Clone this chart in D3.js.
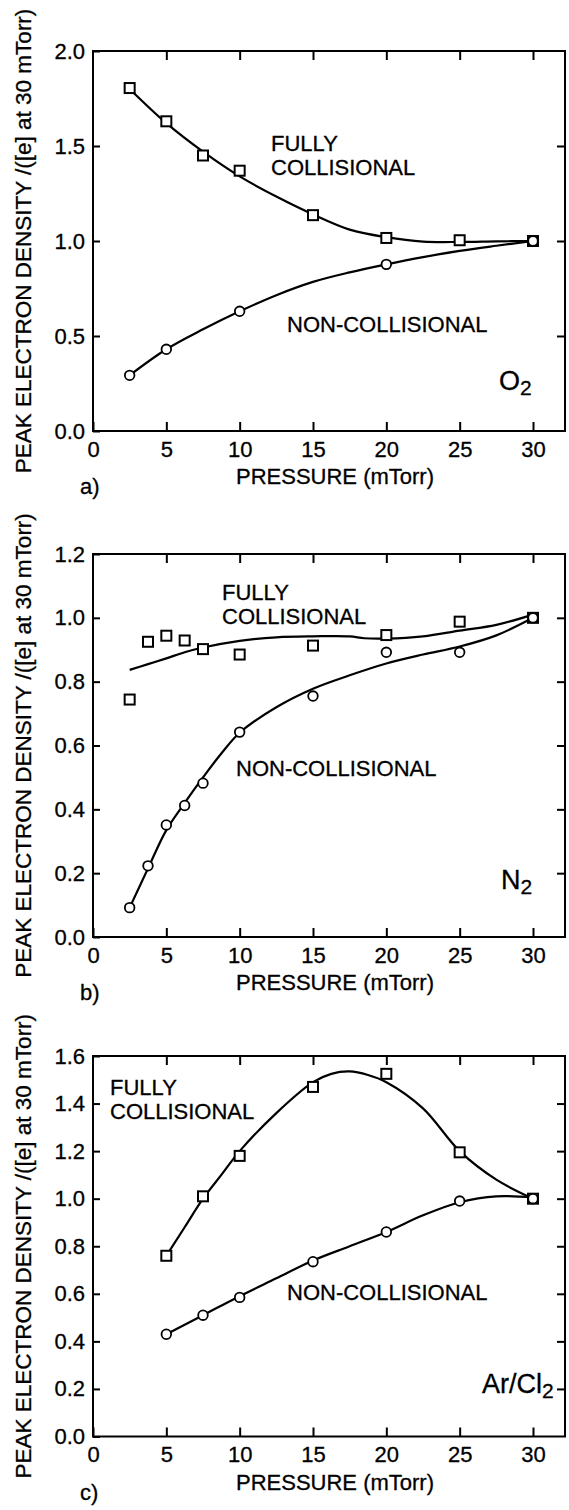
<!DOCTYPE html>
<html><head><meta charset="utf-8">
<script src="https://cdn.jsdelivr.net/npm/d3@7"></script>
<style>
html,body{margin:0;padding:0;background:#fff;}
svg text{font-family:"Liberation Sans",Arial,Helvetica,sans-serif;fill:#000;stroke:#000;stroke-width:0.3px;}
</style></head>
<body>
<svg id="chart" width="569" height="1510"></svg>
<script>
// ---------- DATA ----------
const xTicks = [0, 5, 10, 15, 20, 25, 30];
const yTicksA = [0.0, 0.5, 1.0, 1.5, 2.0];
const yTicksB = [0.0, 0.2, 0.4, 0.6, 0.8, 1.0, 1.2];
const yTicksC = [0.0, 0.2, 0.4, 0.6, 0.8, 1.0, 1.2, 1.4, 1.6];

// a) O2
const collPressA = [2.5, 5, 7.5, 10, 15, 20, 25, 30];
const collA      = [1.805, 1.63, 1.45, 1.37, 1.136, 1.016, 1.004, 1.0];
const nonPressA  = [2.5, 5, 10, 20, 30];
const nonA       = [0.293, 0.43, 0.63, 0.877, 1.0];
const fitCollPressA = [2.5, 5, 7.5, 10, 12.5, 15, 17.5, 20, 22.5, 25, 27.5, 30];
const fitCollA      = [1.80, 1.62, 1.47, 1.34, 1.234, 1.14, 1.06, 1.02, 0.997, 0.995, 0.998, 1.0];
const fitNonPressA  = [2.5, 5, 7.5, 10, 12.5, 15, 17.5, 20, 22.5, 25, 27.5, 30];
const fitNonA       = [0.293, 0.43, 0.535, 0.63, 0.715, 0.785, 0.835, 0.877, 0.915, 0.948, 0.975, 1.0];

// b) N2
const collPressB = [2.5, 3.75, 5, 6.25, 7.5, 10, 15, 20, 25, 30];
const collB      = [0.744, 0.925, 0.944, 0.929, 0.902, 0.885, 0.913, 0.946, 0.988, 1.0];
const nonPressB  = [2.5, 3.75, 5, 6.25, 7.5, 10, 15, 20, 25, 30];
const nonB       = [0.092, 0.223, 0.351, 0.412, 0.482, 0.642, 0.755, 0.892, 0.892, 1.0];
const fitCollPressB = [2.5, 3.75, 5, 6.25, 7.5, 10, 12.5, 15, 17.5, 18.5, 20, 22.5, 25, 27.5, 30];
const fitCollB      = [0.837, 0.855, 0.873, 0.892, 0.907, 0.928, 0.939, 0.942, 0.942, 0.936, 0.935, 0.942, 0.960, 0.978, 1.01];
const fitNonPressB  = [2.5, 3.75, 5, 6.25, 7.5, 8.75, 10, 12.5, 15, 17.5, 20, 22.5, 25, 27.5, 30];
const fitNonB       = [0.092, 0.215, 0.335, 0.42, 0.50, 0.575, 0.64, 0.72, 0.778, 0.82, 0.857, 0.885, 0.91, 0.945, 1.0];

// c) Ar/Cl2
const collPressC = [5, 7.5, 10, 15, 20, 25, 30];
const collC      = [0.76, 1.01, 1.18, 1.47, 1.525, 1.195, 1.0];
const nonPressC  = [5, 7.5, 10, 15, 20, 25, 30];
const nonC       = [0.43, 0.51, 0.585, 0.735, 0.86, 0.99, 1.0];
const fitCollPressC = [5, 6.25, 7.5, 8.75, 10, 12.5, 15, 16.25, 17.5, 18.75, 20, 22.5, 25, 27.5, 30];
const fitCollC      = [0.76, 0.88, 1.0, 1.10, 1.2, 1.36, 1.49, 1.525, 1.535, 1.52, 1.49, 1.38, 1.2, 1.08, 1.0];
const fitNonPressC  = [5, 7.5, 10, 12.5, 15, 17.5, 20, 22.5, 25, 27.5, 30];
const fitNonC       = [0.43, 0.51, 0.59, 0.665, 0.74, 0.80, 0.86, 0.93, 0.985, 1.01, 1.005];

const yLabel = "PEAK ELECTRON DENSITY /([e] at 30 mTorr)";
const xLabel = "PRESSURE (mTorr)";

// ---------- LAYOUT ----------
const svg = d3.select("#chart");
const X0 = 93, X30 = 533, XR = 565;
const panels = [
  {top:51, bottom:431, yMax:2.0, yTicks:yTicksA, letter:"a)",
   coll:[collPressA,collA], non:[nonPressA,nonA], fitColl:[fitCollPressA,fitCollA], fitNon:[fitNonPressA,fitNonA],
   fully:[271,151], nonLab:[287,332], gas:{x:499,y:390,main:"O",sub:"2"}},
  {top:554, bottom:937, yMax:1.2, yTicks:yTicksB, letter:"b)",
   coll:[collPressB,collB], non:[nonPressB,nonB], fitColl:[fitCollPressB,fitCollB], fitNon:[fitNonPressB,fitNonB],
   fully:[222,600], nonLab:[236,776], gas:{x:501,y:889,main:"N",sub:"2"}},
  {top:1056, bottom:1436.5, yMax:1.6, yTicks:yTicksC, letter:"c)",
   coll:[collPressC,collC], non:[nonPressC,nonC], fitColl:[fitCollPressC,fitCollC], fitNon:[fitNonPressC,fitNonC],
   fully:[110,1095], nonLab:[287,1300], gas:{x:482,y:1393,main:"Ar/Cl",sub:"2"}}
];

const x = d3.scaleLinear().domain([0, 30]).range([X0, X30]);
const FS = 22;

panels.forEach(p => {
  const y = d3.scaleLinear().domain([0, p.yMax]).range([p.bottom, p.top]);
  const g = svg.append("g");

  // frame
  g.append("rect").attr("x", X0).attr("y", p.top).attr("width", XR - X0).attr("height", p.bottom - p.top)
    .attr("fill", "none").attr("stroke", "#000").attr("stroke-width", 2);

  const styleAxis = sel => {
    sel.select(".domain").remove();
    sel.selectAll(".tick line").attr("stroke", "#000").attr("stroke-width", 2);
    sel.selectAll(".tick text").style("font-size", FS + "px").attr("fill", "#000");
  };
  g.append("g").attr("transform", `translate(0,${p.bottom})`)
    .call(d3.axisBottom(x).tickValues(xTicks).tickSize(-9).tickPadding(10).tickFormat(d3.format("d")))
    .call(styleAxis);
  g.append("g").attr("transform", `translate(0,${p.top})`)
    .call(d3.axisTop(x).tickValues(xTicks.filter(d => d > 0)).tickSize(-9).tickFormat(""))
    .call(styleAxis);
  g.append("g").attr("transform", `translate(${X0},0)`)
    .call(d3.axisLeft(y).tickValues(p.yTicks).tickSize(-7).tickPadding(8).tickFormat(d3.format(".1f")))
    .call(styleAxis);
  g.append("g").attr("transform", `translate(${XR},0)`)
    .call(d3.axisRight(y).tickValues(p.yTicks.filter(d => d > 0 && d < p.yMax)).tickSize(-8).tickFormat(""))
    .call(styleAxis);

  // fit curves
  const line = d3.line().x(d => x(d[0])).y(d => y(d[1])).curve(d3.curveCatmullRom.alpha(0.5));
  [p.fitColl, p.fitNon].forEach(f => {
    const pts = f[0].map((v, i) => [v, f[1][i]]);
    g.append("path").datum(pts).attr("d", line).attr("fill", "none")
      .attr("stroke", "#000").attr("stroke-width", 2.2).attr("stroke-linejoin", "round");
  });

  // markers
  const sq = 10;
  g.selectAll(".sq").data(p.coll[0].map((v, i) => [v, p.coll[1][i]])).enter().append("rect")
    .attr("x", d => x(d[0]) - sq / 2).attr("y", d => y(d[1]) - sq / 2)
    .attr("width", sq).attr("height", sq).attr("fill", "#fff").attr("stroke", "#000").attr("stroke-width", 2);
  g.selectAll(".ci").data(p.non[0].map((v, i) => [v, p.non[1][i]])).enter().append("circle")
    .attr("cx", d => x(d[0])).attr("cy", d => y(d[1])).attr("r", 4.8)
    .attr("fill", "#fff").attr("stroke", "#000").attr("stroke-width", 1.8);

  // annotations
  g.append("text").attr("x", p.fully[0]).attr("y", p.fully[1]).style("font-size", FS + "px").text("FULLY");
  g.append("text").attr("x", p.fully[0]).attr("y", p.fully[1] + 23.5).style("font-size", FS + "px").text("COLLISIONAL");
  g.append("text").attr("x", p.nonLab[0]).attr("y", p.nonLab[1]).style("font-size", FS + "px").text("NON-COLLISIONAL");
  const gt = g.append("text").attr("x", p.gas.x).attr("y", p.gas.y).style("font-size", "27px");
  gt.append("tspan").text(p.gas.main);
  gt.append("tspan").attr("dy", 5).style("font-size", "21px").text(p.gas.sub);

  // axis titles
  g.append("text").attr("x", 236).attr("y", p.bottom + 53).style("font-size", FS + "px").text(xLabel);
  g.append("text").attr("x", 80).attr("y", p.bottom + 63).style("font-size", FS + "px").text(p.letter);
  g.append("text").attr("transform", `translate(31,${(p.top + p.bottom) / 2}) rotate(-90)`)
    .attr("text-anchor", "middle").style("font-size", "22.5px").text(yLabel);
});
</script>
</body></html>
